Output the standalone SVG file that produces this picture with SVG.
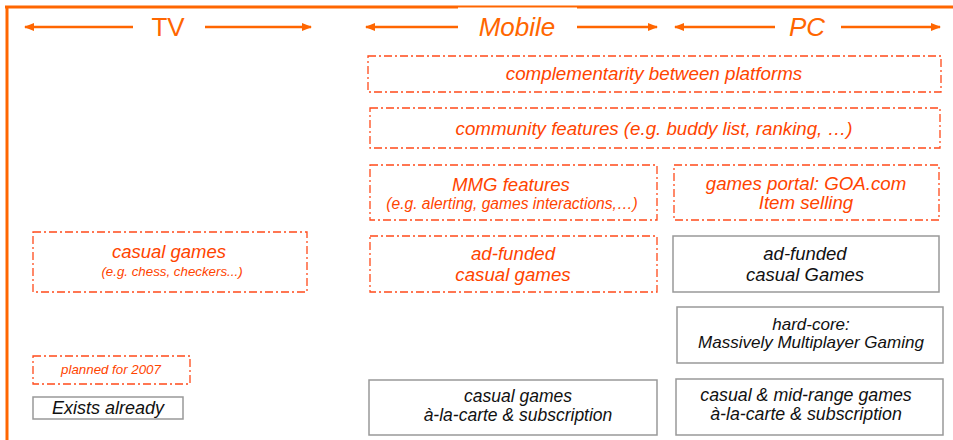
<svg xmlns="http://www.w3.org/2000/svg" width="953" height="440" viewBox="0 0 953 440">
<defs>
<marker id="ah" viewBox="0 0 10 8" refX="9" refY="4" markerWidth="10" markerHeight="8" markerUnits="userSpaceOnUse" orient="auto">
<path d="M0,0 L10,4 L0,8 Z" fill="#FF6600"/>
</marker>
</defs>
<style>
.frame{stroke:#FF6600;stroke-width:3;fill:none}
.arr{stroke:#FF6600;stroke-width:2.5;fill:none;marker-end:url(#ah)}
.hdr{font-family:"Liberation Sans",Arial,sans-serif;font-size:26px;fill:#FF6600;text-anchor:middle}
.plan{fill:#fff;stroke:#FF4A1A;stroke-width:1.3;stroke-dasharray:8 3 2 3}
.done{fill:#fff;stroke:#999;stroke-width:1.5}
.t{font-family:"Liberation Sans",Arial,sans-serif;font-style:italic;text-anchor:middle}
.r{fill:#FF4400}
.k{fill:#111}
</style>
<g id="frame">
<line class="frame" x1="5" y1="7" x2="953" y2="7"/>
<line class="frame" x1="7" y1="6" x2="7" y2="440"/>
<rect x="458" y="7.5" width="119" height="12" fill="#fff"/>
</g>
<g id="connectors">
<line class="arr" x1="133" y1="27" x2="25" y2="27"/>
<line class="arr" x1="205" y1="27" x2="311" y2="27"/>
<line class="arr" x1="458" y1="27" x2="366" y2="27"/>
<line class="arr" x1="577" y1="27" x2="657" y2="27"/>
<line class="arr" x1="775" y1="27" x2="675" y2="27"/>
<line class="arr" x1="841" y1="27" x2="940" y2="27"/>
</g>
<g id="hdr-tv"><text class="hdr" x="168" y="36">TV</text></g>
<g id="hdr-mobile"><text class="hdr" x="517" y="36" font-size="28" font-style="italic">Mobile</text></g>
<g id="hdr-pc"><text class="hdr" x="807" y="36" font-size="27.5" font-style="italic">PC</text></g>
<g id="complementarity">
<rect class="plan" x="368" y="56" width="573" height="36"/>
<text class="t r" x="654" y="80" font-size="18.8">complementarity between platforms</text>
</g>
<g id="community">
<rect class="plan" x="370" y="108" width="570" height="40"/>
<text class="t r" x="654" y="135" font-size="18.7">community features (e.g. buddy list, ranking, …)</text>
</g>
<g id="mmg">
<rect class="plan" x="370" y="165" width="287" height="55"/>
<text class="t r" x="511" y="191" font-size="18.6">MMG features</text>
<text class="t r" x="512" y="209" font-size="15.6">(e.g. alerting, games interactions,…)</text>
</g>
<g id="portal">
<rect class="plan" x="674" y="165" width="265" height="55"/>
<text class="t r" x="806" y="190" font-size="18.7">games portal: GOA.com</text>
<text class="t r" x="806" y="209" font-size="18.7">Item selling</text>
</g>
<g id="mobile-adfunded">
<rect class="plan" x="370" y="236" width="287" height="56"/>
<text class="t r" x="513" y="260" font-size="18.7">ad-funded</text>
<text class="t r" x="513" y="281" font-size="18.7">casual games</text>
</g>
<g id="pc-adfunded">
<rect class="done" x="673" y="236" width="266" height="56"/>
<text class="t k" x="805" y="260" font-size="18.5">ad-funded</text>
<text class="t k" x="805" y="281" font-size="18.5">casual Games</text>
</g>
<g id="hardcore">
<rect class="done" x="677" y="307" width="266" height="56"/>
<text class="t k" x="811" y="330" font-size="17">hard-core:</text>
<text class="t k" x="811" y="348" font-size="17">Massively Multiplayer Gaming</text>
</g>
<g id="mobile-casual">
<rect class="done" x="369" y="380" width="288" height="55"/>
<text class="t k" x="518" y="402" font-size="17.5">casual games</text>
<text class="t k" x="518" y="421" font-size="17.5">à-la-carte &amp; subscription</text>
</g>
<g id="pc-casual">
<rect class="done" x="676" y="379" width="267" height="56"/>
<text class="t k" x="806" y="401" font-size="17.8">casual &amp; mid-range games</text>
<text class="t k" x="806" y="420" font-size="17.8">à-la-carte &amp; subscription</text>
</g>
<g id="tv-casual">
<rect class="plan" x="33" y="232" width="274" height="60"/>
<text class="t r" x="169" y="258" font-size="18.5">casual games</text>
<text class="t r" x="172" y="276" font-size="13.3">(e.g. chess, checkers...)</text>
</g>
<g id="legend-planned">
<rect class="plan" x="33" y="356" width="157" height="28"/>
<text class="t r" x="111" y="374" font-size="13.3">planned for 2007</text>
</g>
<g id="legend-exists">
<rect class="done" x="33" y="397" width="150" height="22"/>
<text class="t k" x="108" y="414" font-size="18">Exists already</text>
</g>
</svg>
